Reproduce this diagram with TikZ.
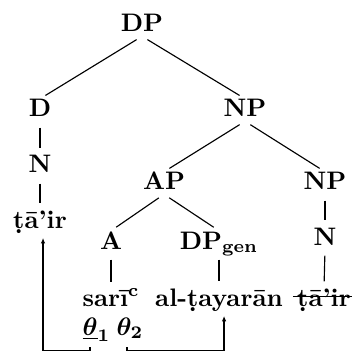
\documentclass[tikz,border=0pt]{standalone}
\usepackage{bm}
\usetikzlibrary{arrows.meta}
\begin{document}
\begin{tikzpicture}[x=0.395pt,y=-0.395pt,
  lab/.style={font=\bfseries, inner sep=0pt, text height=7pt, text depth=1.5pt, anchor=base},
  free/.style={font=\bfseries, inner sep=0pt, anchor=base west},
  branch/.style={line width=0.45pt, shorten <=2.5pt, shorten >=2.5pt},
  link/.style={line width=0.45pt, -{Latex[length=2.2pt,width=1.8pt]}, shorten >=2.2pt}]
\useasboundingbox (0,0) rectangle (352,352);

% tree nodes
\node[lab] (dp)  at (142,32)  {DP};
\node[lab] (d)   at (40,117)  {D};
\node[lab] (np)  at (245,117) {NP};
\node[lab] (n1)  at (40,173)  {N};
\node[lab] (ap)  at (164,190) {AP};
\node[lab] (np2) at (325,190) {NP};
\node[lab] (t1)  at (40,228)  {ṭā’ir};
\node[lab] (a)   at (111,249) {A};
\node[lab] (dpg) at (219,249) {DP\textsubscript{gen}};
\node[lab] (n2)  at (325,245) {N};

% leaves
\node[free] (sari) at (82,306) {sarī\textsuperscript{c}};
\node[lab]  (alt)  at (219,306) {al-ṭayarān};
\node[lab]  (t2)   at (324,306) {ṭā’ir};
\node[free] (th1)  at (82,335) {$\underline{\bm{\theta}}_{\mathbf{1}}$};
\node[free] (th2)  at (116,335) {$\bm{\theta}_{\mathbf{2}}$};

% strike-through of the lower copy
\draw[line width=0.55pt] ([xshift=-1.5pt,yshift=3.7pt]t2.base west) -- ([xshift=1.5pt,yshift=3.7pt]t2.base east);

% branches
\draw[branch] (dp.south) -- (d.north);
\draw[branch] (dp.south) -- (np.north);
\draw[branch] (d.south) -- (n1.north);
\draw[branch] (n1.south) -- (t1.north);
\draw[branch] (np.south) -- (ap.north);
\draw[branch] (np.south) -- (np2.north);
\draw[branch] (ap.south) -- (a.north);
\draw[branch] (ap.south) -- (dpg.north);
\draw[branch] (np2.south) -- (n2.north);
\draw[branch] (n2.south) -- (t2.north);
\draw[branch] (a.south) -- (a.south |- sari.north);
\draw[branch] (dpg.south) -- (alt.north);

% theta-role links
\coordinate (m1) at (90,347);
\coordinate (m2) at (127,347);
\coordinate (r)  at (0,350.5);
\draw[link] (m1) -- (m1 |- r) -| ([xshift=1.2pt]t1.south);
\draw[link] (m2) -- (m2 |- r) -| ([xshift=2pt]alt.south);
\end{tikzpicture}
\end{document}
